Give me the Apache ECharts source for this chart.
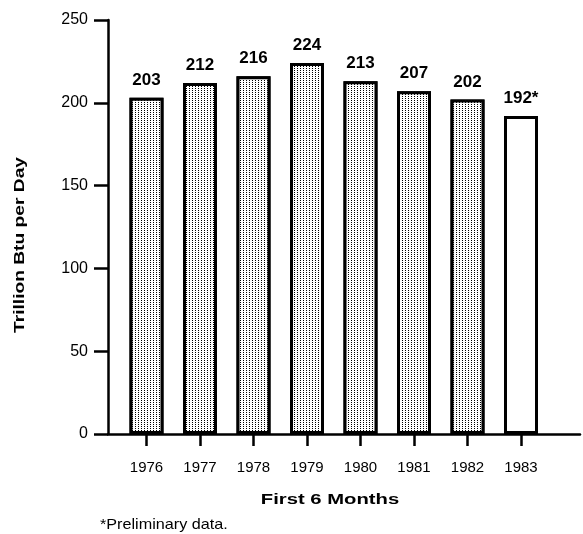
<!DOCTYPE html>
<html><head><meta charset="utf-8">
<script src="https://cdn.jsdelivr.net/npm/echarts@6/dist/echarts.min.js"></script>
<style>html,body{margin:0;padding:0;background:#fff}#c{width:583px;height:534px}</style>
</head><body><div id="c"></div>
<script>
const years = [1976, 1977, 1978, 1979, 1980, 1981, 1982, 1983];
const values = [203, 212, 216, 224, 213, 207, 202, 192];
const valueLabels = ['203', '212', '216', '224', '213', '207', '202', '192*'];
const preliminary = [false, false, false, false, false, false, false, true];
const yTicks = [0, 50, 100, 150, 200, 250];

const FONT = 'Liberation Sans, Arial, sans-serif';
const chart = echarts.init(document.getElementById('c'), null, {renderer: 'canvas'});

const gridLeft = 108, gridRight = 580, firstCenter = 146.5, step = 53.5;
const xMin = years[0] - (firstCenter - gridLeft) / step;
const xMax = years[0] + (gridRight - firstCenter) / step;

const dotDecal = {
  symbol: 'rect', symbolSize: 1, color: '#000',
  dashArrayX: [1, 2], dashArrayY: [1, 1], rotation: 0, backgroundColor: '#fff'
};

chart.setOption({
  animation: false,
  backgroundColor: '#fff',
  grid: {left: gridLeft, right: 583 - gridRight, top: 20, bottom: 100},
  xAxis: {
    type: 'value', min: xMin, max: xMax,
    splitLine: {show: false},
    axisLine: {show: true, lineStyle: {color: '#000', width: 2.5}},
    axisTick: {show: true, customValues: years, length: 12, lineStyle: {color: '#000', width: 2.5}},
    axisLabel: {customValues: years, formatter: v => String(v), color: '#000', fontFamily: FONT, fontSize: 15, margin: 26}
  },
  yAxis: {
    type: 'value', min: 0, max: 250, interval: 50,
    splitLine: {show: false},
    axisLine: {show: true, lineStyle: {color: '#000', width: 2.5}},
    axisTick: {show: true, length: 14, lineStyle: {color: '#000', width: 2.5}},
    axisLabel: {color: '#000', fontFamily: FONT, fontSize: 16, margin: 20,
      formatter: v => yTicks.includes(v) ? String(v) : ''}
  },
  series: [{
    type: 'bar',
    barWidth: 34,
    data: years.map((y, i) => ({
      value: [y, values[i]],
      itemStyle: preliminary[i]
        ? {color: '#fff', borderColor: '#000', borderWidth: 3}
        : {color: '#fff', borderColor: '#000', borderWidth: 3, decal: dotDecal},
      label: {formatter: valueLabels[i]}
    })),
    label: {show: true, position: 'top', distance: 9, color: '#000', fontFamily: FONT, fontSize: 17, fontWeight: 'bold'}
  }],
  graphic: [
    {type: 'text', x: 20, y: 245, rotation: Math.PI / 2, scaleX: 1.28,
      style: {text: 'Trillion Btu per Day', fill: '#000', font: 'bold 15px ' + FONT, textAlign: 'center', textVerticalAlign: 'middle'}},
    {type: 'text', x: 330, y: 500, scaleX: 1.35,
      style: {text: 'First 6 Months', fill: '#000', font: 'bold 15px ' + FONT, textAlign: 'center', textVerticalAlign: 'middle'}},
    {type: 'text', x: 100, y: 525, scaleX: 1.08,
      style: {text: '*Preliminary data.', fill: '#000', font: '15px ' + FONT, textAlign: 'left', textVerticalAlign: 'middle'}}
  ]
});
</script></body></html>
